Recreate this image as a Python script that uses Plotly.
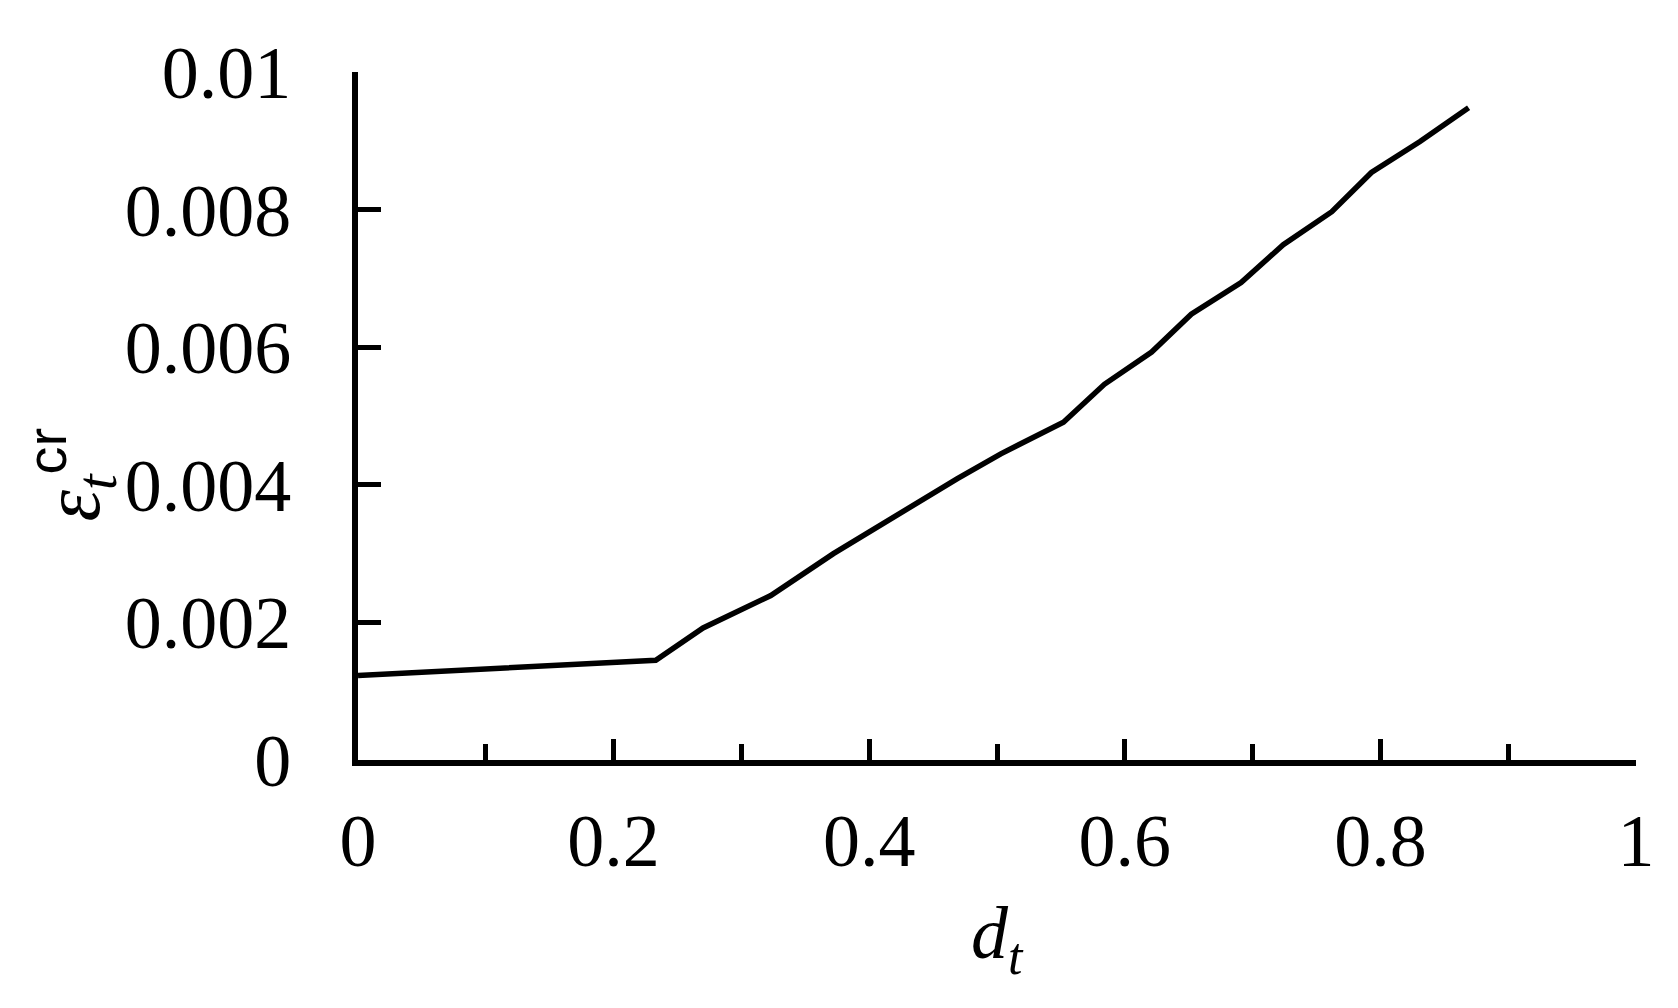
import plotly.graph_objects as go

# data
d_t = [0.0, 0.1, 0.233, 0.27, 0.323, 0.372, 0.417, 0.469, 0.503, 0.552, 0.584,
       0.621, 0.652, 0.691, 0.724, 0.762, 0.793, 0.831, 0.869]
eps_cr = [0.00123, 0.00132, 0.00145, 0.00192, 0.00239, 0.00300, 0.00351, 0.00409,
          0.00445, 0.00491, 0.00546, 0.00593, 0.00648, 0.00694, 0.00749, 0.00797,
          0.00854, 0.00899, 0.00948]

x_tickvals = [0, 0.2, 0.4, 0.6, 0.8, 1.0]
x_ticktext = ["0", "0.2", "0.4", "0.6", "0.8", "1"]
y_tickvals = [0, 0.002, 0.004, 0.006, 0.008, 0.01]
y_ticktext = ["0", "0.002", "0.004", "0.006", "0.008", "0.01"]

W, H = 1678, 1008
L, R, T, B = 350, 50, 64, 256
SERIF = "Liberation Serif"
FS = 74

fig = go.Figure()
fig.add_trace(go.Scatter(x=d_t, y=eps_cr, mode="lines",
                         line=dict(color="black", width=5.5), showlegend=False))

fig.update_layout(
    width=W, height=H,
    margin=dict(l=L, r=R, t=T, b=B, pad=0),
    paper_bgcolor="white", plot_bgcolor="white",
    font=dict(family=SERIF, size=FS, color="black"),
)
fig.update_xaxes(
    range=[0, 1], showgrid=False, zeroline=False,
    showline=True, linecolor="black", linewidth=6,
    ticks="inside", ticklen=21, tickwidth=5, tickcolor="black",
    tickvals=x_tickvals, ticktext=x_ticktext,
    tickfont=dict(family=SERIF, size=FS, color="black"),
    ticklabelstandoff=11,
    minor=dict(ticks="inside", ticklen=16, tickwidth=5, tickcolor="black", dtick=0.1, showgrid=False),
)
fig.update_yaxes(
    range=[0, 0.01], showgrid=False, zeroline=False,
    showline=True, linecolor="black", linewidth=6,
    ticks="inside", ticklen=23, tickwidth=5, tickcolor="black",
    tickvals=y_tickvals, ticktext=y_ticktext,
    tickfont=dict(family=SERIF, size=FS, color="black"),
    ticklabelstandoff=46,
)

fig.add_annotation(
    text="<i>d</i><sub><i>t</i></sub>", xref="paper", yref="paper",
    x=0.5, y=0, xanchor="center", yanchor="middle", yshift=-178,
    showarrow=False, font=dict(family=SERIF, size=FS, color="black"),
)
fig.add_annotation(
    text="<i>ε</i><sub><i>t</i></sub><sup><span style='font-family:Liberation Sans'>cr</span></sup>",
    xref="paper", yref="paper",
    x=0, y=0.415, xanchor="center", yanchor="middle", xshift=-287,
    textangle=-90, showarrow=False,
    font=dict(family=SERIF, size=80, color="black"),
)

fig.write_html("out.html")
